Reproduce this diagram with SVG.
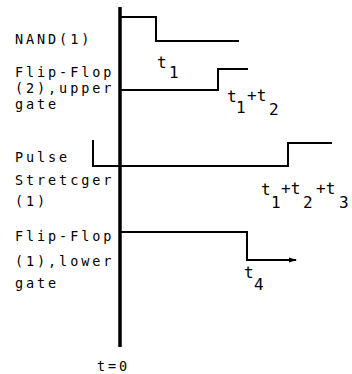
<svg xmlns="http://www.w3.org/2000/svg" width="352" height="374" viewBox="0 0 352 374">
<style>
  .lbl { font-family: "DejaVu Sans Mono", "Liberation Mono", monospace; font-size: 13.5px; fill: #000; letter-spacing: 2.9px; }
  .sub { font-family: "DejaVu Sans Mono", "Liberation Mono", monospace; font-size: 16px; fill: #000; }
  .sig { fill: none; stroke: #000; stroke-width: 2; stroke-linejoin: miter; }
  .axis { fill: none; stroke: #000; stroke-width: 3.5; }
</style>
<defs>
  <marker id="arr" markerWidth="8" markerHeight="6" refX="7" refY="3" orient="auto" markerUnits="userSpaceOnUse">
    <path d="M0,0.5 L8,3 L0,5.5 Z" fill="#000"/>
  </marker>
</defs>
<rect width="352" height="374" fill="#fff"/>
<g id="connectors">
  <line id="axis" class="axis" x1="120" y1="7" x2="120" y2="347"/>
  <polyline id="wave-nand1" class="sig" points="120,17 156,17 156,41 239,41"/>
  <polyline id="wave-ff2" class="sig" points="120,90 218,90 218,69 248,69"/>
  <polyline id="wave-ps1" class="sig" points="93,140 93,166 288,166 288,143 332,143"/>
  <polyline id="wave-ff1" class="sig" points="120,232 247,232 247,260 296,260" marker-end="url(#arr)"/>
</g>
<g id="label-nand1"><text class="lbl" x="15" y="44">NAND(1)</text></g>
<g id="label-ff2">
  <text class="lbl" x="15" y="77">Flip-Flop</text>
  <text class="lbl" x="15" y="93">(2),upper</text>
  <text class="lbl" x="15" y="109">gate</text>
</g>
<g id="label-ps1">
  <text class="lbl" x="15" y="162">Pulse</text>
  <text class="lbl" x="15" y="185">Stretcger</text>
  <text class="lbl" x="15" y="206">(1)</text>
</g>
<g id="label-ff1">
  <text class="lbl" x="15" y="241">Flip-Flop</text>
  <text class="lbl" x="15" y="266">(1),lower</text>
  <text class="lbl" x="15" y="288">gate</text>
</g>
<g id="label-t1"><text class="sub" x="157" y="68">t<tspan x="169" y="78">1</tspan></text></g>
<g id="label-t1t2"><text class="sub" x="227" y="102">t<tspan x="236" y="113">1</tspan><tspan x="247" y="101">+t</tspan><tspan x="269" y="115">2</tspan></text></g>
<g id="label-t1t2t3"><text class="sub" x="261" y="195">t<tspan x="271" y="208">1</tspan><tspan x="281" y="194">+t</tspan><tspan x="303" y="208">2</tspan><tspan x="316" y="194">+t</tspan><tspan x="339" y="208">3</tspan></text></g>
<g id="label-t4"><text class="sub" x="244" y="278">t<tspan x="254" y="290">4</tspan></text></g>
<g id="label-t0"><text class="lbl" x="97" y="371">t=0</text></g>
</svg>
